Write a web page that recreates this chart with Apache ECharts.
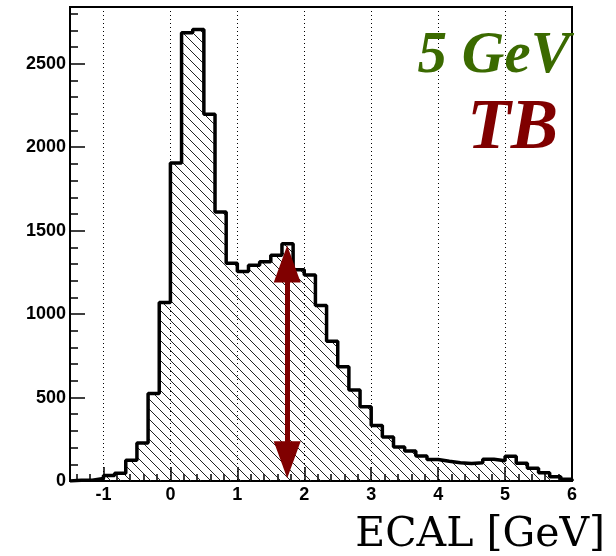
<!DOCTYPE html>
<html>
<head>
<meta charset="utf-8">
<script src="https://cdn.jsdelivr.net/npm/echarts@6/dist/echarts.min.js"></script>
<style>
html,body{margin:0;padding:0;background:#fff;}
#c{width:616px;height:556px;}
</style>
</head>
<body>
<div id="c"></div>
<script>
// ---- data ----
const binStart = -1.5;
const binWidth = 1 / 6;
const counts = [5, 5, 15, 33, 47, 125, 228, 525, 1070, 1905, 2685, 2705, 2198, 1612, 1305,
  1255, 1293, 1313, 1352, 1422, 1265, 1235, 1052, 838, 685, 545, 445, 333, 263, 203,
  180, 150, 129, 118, 110, 105, 110, 130, 121, 148, 106, 76, 49, 25, 10];
const xRange = [-1.5, 6];
const yRange = [0, 2840];
const xLabels = [-1, 0, 1, 2, 3, 4, 5, 6];
const arrowX = 1.745;
const arrowEnds = [1300, 128];
const energyLabel = '5 GeV';
const sampleLabel = 'TB';
const axisTitle = 'ECAL [GeV]';

// ---- build step outline points ----
const pts = [[binStart, 0]];
counts.forEach((v, i) => pts.push([binStart + i * binWidth, v]));
pts.push([binStart + counts.length * binWidth, 0]);

const xMinor = [];
for (let k = -7; k <= 30; k++) xMinor.push(+(k * 0.2).toFixed(2));
const yMinor = [];
for (let k = 0; k <= 28; k++) yMinor.push(k * 100);

// hatch pattern
const pc = document.createElement('canvas');
pc.width = 10; pc.height = 10;
const g = pc.getContext('2d');
g.strokeStyle = '#222';
g.lineWidth = 1;
g.beginPath();
g.moveTo(-1, -1); g.lineTo(11, 11);
g.moveTo(-1, 9); g.lineTo(1, 11);
g.moveTo(9, -1); g.lineTo(11, 1);
g.stroke();

const chart = echarts.init(document.getElementById('c'), null, {renderer: 'canvas'});
const labelFont = {fontFamily: 'Liberation Sans', fontWeight: 'bold', fontSize: 18, color: '#000'};
chart.setOption({
  animation: false,
  backgroundColor: '#fff',
  title: [
    {text: energyLabel, right: 46, top: 27, padding: 0,
     textStyle: {fontFamily: 'Liberation Serif', fontStyle: 'italic', fontWeight: 'bold', fontSize: 59, color: '#3b6a00'}},
    {text: sampleLabel, right: 58, top: 94, padding: 0,
     textStyle: {fontFamily: 'Liberation Serif', fontStyle: 'italic', fontWeight: 'bold', fontSize: 71, color: '#800000'}},
    {text: axisTitle, right: 11, top: 515, padding: 0,
     textStyle: {fontFamily: 'DejaVu Serif', fontWeight: 'normal', fontSize: 41, color: '#000'}}
  ],
  grid: {left: 70, right: 44, top: 7, bottom: 75, show: true, borderColor: '#000', borderWidth: 2, backgroundColor: 'transparent'},
  xAxis: [
    {type: 'value', min: xRange[0], max: xRange[1], minInterval: 1, maxInterval: 1, position: 'bottom',
     axisLine: {show: true, onZero: false, lineStyle: {color: '#000', width: 2}},
     axisTick: {show: true, inside: true, length: 14, lineStyle: {color: '#000', width: 1.5}},
     axisLabel: {show: true, ...labelFont, margin: 5, showMinLabel: false,
       formatter: v => (xLabels.indexOf(Math.round(v)) >= 0 && Math.abs(v - Math.round(v)) < 1e-6) ? String(Math.round(v)) : ''},
     splitLine: {show: true, lineStyle: {color: '#000', width: 1, type: [1, 3]}},
     minorTick: {show: false}},
    {type: 'value', min: xRange[0], max: xRange[1], position: 'bottom', offset: 0,
     axisLine: {show: false, onZero: false},
     axisTick: {show: true, inside: true, length: 7, customValues: xMinor, lineStyle: {color: '#000', width: 1.5}},
     axisLabel: {show: false}, splitLine: {show: false}}
  ],
  yAxis: [
    {type: 'value', min: yRange[0], max: yRange[1], interval: 500, position: 'left',
     axisLine: {show: true, onZero: false, lineStyle: {color: '#000', width: 2}},
     axisTick: {show: true, inside: true, length: 15, lineStyle: {color: '#000', width: 1.5}},
     axisLabel: {show: true, ...labelFont, margin: 4, showMaxLabel: false,
       formatter: v => (v % 500 === 0 ? String(v) : '')},
     splitLine: {show: false}},
    {type: 'value', min: yRange[0], max: yRange[1], position: 'left', offset: 0,
     axisLine: {show: false, onZero: false},
     axisTick: {show: true, inside: true, length: 8, customValues: yMinor, lineStyle: {color: '#000', width: 1.5}},
     axisLabel: {show: false}, splitLine: {show: false}}
  ],
  series: [{
    type: 'line',
    xAxisIndex: 0, yAxisIndex: 0,
    step: 'end',
    data: pts,
    symbol: 'none',
    lineStyle: {color: '#000', width: 3.5},
    areaStyle: {color: {image: pc, repeat: 'repeat'}, opacity: 1},
    silent: true,
    z: 3,
    markLine: {
      silent: true,
      symbol: ['triangle', 'triangle'],
      symbolSize: [27, 37],
      label: {show: false},
      lineStyle: {color: '#800000', width: 5, type: 'solid'},
      data: [[{coord: [arrowX, arrowEnds[0]]}, {coord: [arrowX, arrowEnds[1]]}]]
    }
  }]
});
</script>
</body>
</html>
